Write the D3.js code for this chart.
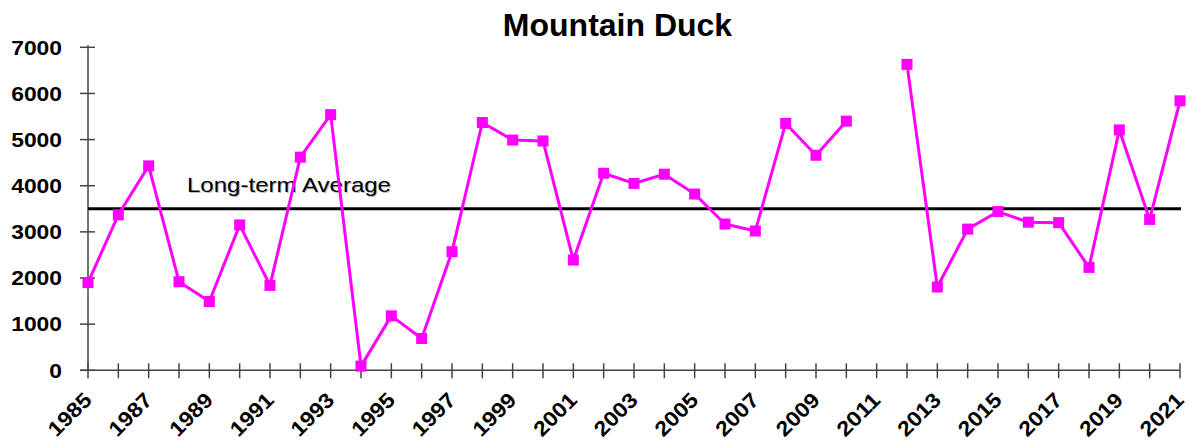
<!DOCTYPE html>
<html><head><meta charset="utf-8">
<script src="https://cdn.jsdelivr.net/npm/d3@7"></script>
<style>body{margin:0;background:#fff}svg{display:block}</style>
</head><body>
<svg id="c" width="1195" height="443"></svg>
<script>
const title = "Mountain Duck";
const years = d3.range(1985, 2022);
const counts = [1900, 3370, 4430, 1920, 1490, 3150, 1840, 4620, 5540, 90,
  1180, 690, 2570, 5370, 4990, 4970, 2390, 4270, 4050, 4250,
  3820, 3170, 3020, 5350, 4660, 5400, null, 6630, 1805, 3060,
  3440, 3210, 3200, 2230, 5210, 3270, 5840];
const averageValue = 3500;
const averageLabel = "Long-term Average";
const yTicks = [0, 1000, 2000, 3000, 4000, 5000, 6000, 7000];
const xLabelYears = d3.range(1985, 2022, 2);

const svg = d3.select("#c");
const x = d3.scaleLinear().domain([1985, 2021]).range([88, 1180]);
const y = d3.scaleLinear().domain([0, 7000]).range([370.3, 47.3]);
const axisColor = "#444";
const font = "'Liberation Sans', Arial, sans-serif";

// title
svg.append("text").attr("x", 617.5).attr("y", 36).attr("text-anchor", "middle")
  .attr("font-family", font).attr("font-weight", "bold").attr("font-size", 32)
  .attr("fill", "#000").text(title);

// y axis
svg.append("line").attr("x1", x(1985)).attr("x2", x(1985)).attr("y1", y(7000) - 2).attr("y2", y(0))
  .attr("stroke", axisColor).attr("stroke-width", 1.5);
svg.selectAll(".yt").data(yTicks).join("line")
  .attr("x1", x(1985) - 8).attr("x2", x(1985) + 7)
  .attr("y1", d => y(d)).attr("y2", d => y(d))
  .attr("stroke", axisColor).attr("stroke-width", 1.5);
svg.selectAll(".yl").data(yTicks).join("text")
  .attr("x", 62).attr("y", d => y(d) + 7.3).attr("text-anchor", "end")
  .attr("font-family", font).attr("font-weight", "bold").attr("font-size", 20.5)
  .attr("textLength", d => String(d).length * 12.7).attr("lengthAdjust", "spacingAndGlyphs")
  .attr("fill", "#000").text(d => d);

// x axis
svg.append("line").attr("x1", x(1985) - 8).attr("x2", x(2021)).attr("y1", y(0)).attr("y2", y(0))
  .attr("stroke", axisColor).attr("stroke-width", 1.5);
svg.selectAll(".xt").data(years).join("line")
  .attr("x1", d => x(d)).attr("x2", d => x(d))
  .attr("y1", y(0) - 7).attr("y2", y(0) + 8)
  .attr("stroke", axisColor).attr("stroke-width", 1.5);
svg.selectAll(".xl").data(xLabelYears).join("text")
  .attr("transform", d => `translate(${x(d) + 5},${y(0) + 31}) rotate(-45)`)
  .attr("text-anchor", "end")
  .attr("font-family", font).attr("font-weight", "bold").attr("font-size", 21)
  .attr("textLength", 51.5).attr("lengthAdjust", "spacingAndGlyphs")
  .attr("fill", "#000").text(d => d);

// average line + label
svg.append("line").attr("x1", x(1985)).attr("x2", x(2021) + 1)
  .attr("y1", y(averageValue)).attr("y2", y(averageValue))
  .attr("stroke", "#000").attr("stroke-width", 3);
[["#bbb", 1], ["#000", 0]].forEach(([c, o]) => {
  svg.append("text").attr("x", 187 + o).attr("y", 191.7 + o)
    .attr("font-family", font).attr("font-size", 21)
    .attr("textLength", 204).attr("lengthAdjust", "spacingAndGlyphs")
    .attr("fill", c).text(averageLabel);
});

// series
const data = years.map((yr, i) => ({year: yr, value: counts[i]}));
const line = d3.line().defined(d => d.value != null).x(d => x(d.year)).y(d => y(d.value));
svg.append("path").datum(data).attr("d", line)
  .attr("fill", "none").attr("stroke", "#ff00ff").attr("stroke-width", 3)
  .attr("stroke-linejoin", "round");
svg.selectAll(".pt").data(data.filter(d => d.value != null)).join("rect")
  .attr("x", d => x(d.year) - 5.5).attr("y", d => y(d.value) - 5.5)
  .attr("width", 11).attr("height", 11).attr("fill", "#ff00ff");
</script>
</body></html>
